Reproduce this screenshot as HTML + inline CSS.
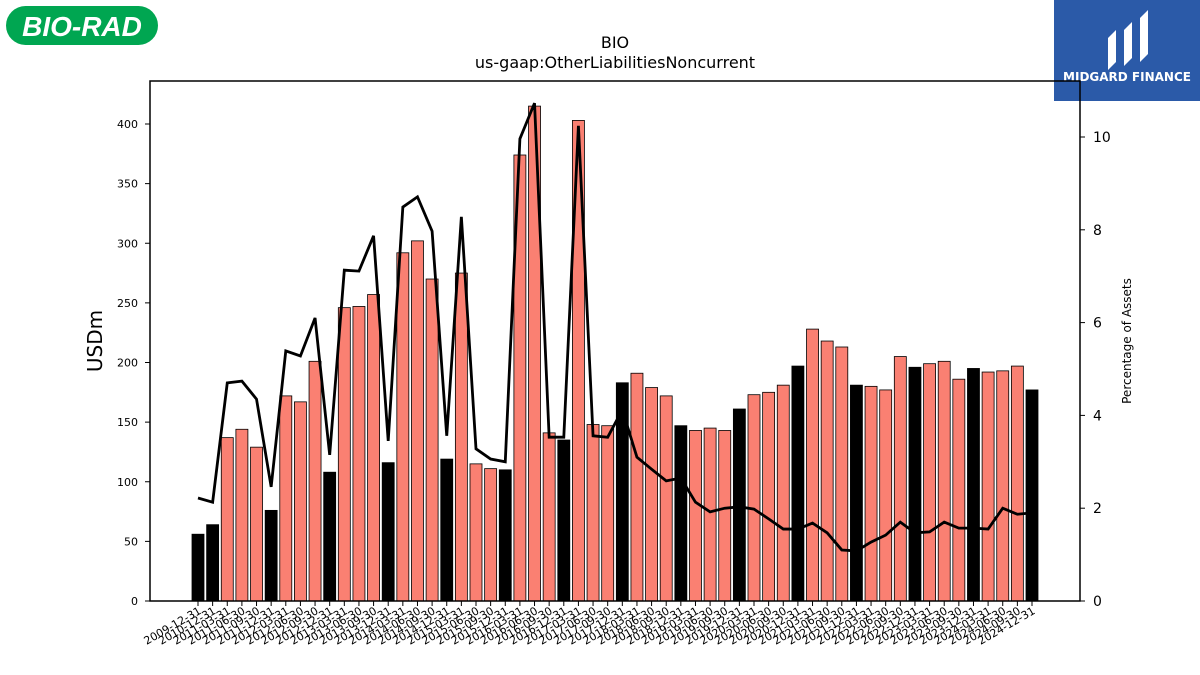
<!DOCTYPE html>
<html><head><meta charset="utf-8"><style>
body{margin:0;background:#fff;font-family:"Liberation Sans","DejaVu Sans",sans-serif}
svg{display:block}
</style></head><body>
<svg id="chart" width="1200" height="675" viewBox="0 0 1200 675" xmlns="http://www.w3.org/2000/svg" font-family="DejaVu Sans, Liberation Sans, sans-serif">
<g>
<rect x="6" y="6" width="152" height="39" rx="19.5" fill="#00a651"/>
<text x="82" y="36" text-anchor="middle" font-size="28" font-weight="bold" font-style="italic" fill="#fff" font-family="Liberation Sans, sans-serif">BIO-RAD</text>
</g>
<g>
<rect x="1054" y="0" width="146" height="101" fill="#2b5aa8"/>
<path d="M1108 70 L1108 38 L1116 30 L1116 62 Z M1124 66 L1124 30 L1132 22 L1132 58 Z M1140 62 L1140 18 L1148 10 L1148 54 Z" fill="#fff"/>
<text x="1127" y="81" text-anchor="middle" font-size="12" font-weight="bold" fill="#fff">MIDGARD FINANCE</text>
</g>
<text x="615" y="48" text-anchor="middle" font-size="16">BIO</text>
<text x="615" y="68" text-anchor="middle" font-size="16">us-gaap:OtherLiabilitiesNoncurrent</text>
<g id="bars"></g>
<g id="line"></g>
<rect x="150" y="81" width="930" height="520" fill="none" stroke="#000" stroke-width="1.5"/>
<g id="axes"></g>
<text transform="translate(102,341) rotate(-90)" text-anchor="middle" font-size="20">USDm</text>
<text transform="translate(1131,341) rotate(-90)" text-anchor="middle" font-size="12">Percentage of Assets</text>
</svg>
<script>
const categories=["2009-12-31","2010-12-31","2011-03-31","2011-06-30","2011-09-30","2011-12-31","2012-03-31","2012-06-30","2012-09-30","2012-12-31","2013-03-31","2013-06-30","2013-09-30","2013-12-31","2014-03-31","2014-06-30","2014-09-30","2014-12-31","2015-03-31","2015-06-30","2015-09-30","2015-12-31","2016-03-31","2016-06-30","2016-09-30","2016-12-31","2017-03-31","2017-06-30","2017-09-30","2017-12-31","2018-03-31","2018-06-30","2018-09-30","2018-12-31","2019-03-31","2019-06-30","2019-09-30","2019-12-31","2020-03-31","2020-06-30","2020-09-30","2020-12-31","2021-03-31","2021-06-30","2021-09-30","2021-12-31","2022-03-31","2022-06-30","2022-09-30","2022-12-31","2023-03-31","2023-06-30","2023-09-30","2023-12-31","2024-03-31","2024-06-30","2024-09-30","2024-12-31"];
const values=[56,64,137,144,129,76,172,167,201,108,246,247,257,116,292,302,270,119,275,115,111,110,374,415,141,135,403,148,147,183,191,179,172,147,143,145,143,161,173,175,181,197,228,218,213,181,180,177,205,196,199,201,186,195,192,193,197,177];
const pct=[2.22,2.13,4.70,4.74,4.35,2.46,5.39,5.28,6.10,3.15,7.13,7.11,7.87,3.45,8.49,8.71,7.97,3.56,8.28,3.28,3.06,3.00,9.96,10.73,3.53,3.53,10.24,3.56,3.53,4.12,3.10,2.84,2.59,2.65,2.13,1.92,2.00,2.03,1.98,1.77,1.55,1.55,1.68,1.47,1.10,1.08,1.27,1.42,1.70,1.47,1.49,1.70,1.57,1.57,1.55,2.00,1.87,1.90];
const leftTicks=[0,50,100,150,200,250,300,350,400];
const rightTicks=[0,2,4,6,8,10];
const NS="http://www.w3.org/2000/svg";
const x0=198,step=(1032-198)/57;
const xs=i=>x0+i*step;
const y=v=>601-v*477/400;
const y2=v=>601-v*46.4;
const bars=document.getElementById('bars'),line=document.getElementById('line'),axes=document.getElementById('axes');
function mk(t,a,p){const e=document.createElementNS(NS,t);for(const k in a)e.setAttribute(k,a[k]);p.appendChild(e);return e;}
categories.forEach((c,i)=>{
 const black=c.endsWith("12-31");
 const r=mk('rect',{x:xs(i)-6,y:y(values[i]),width:12,height:601-y(values[i]),fill:black?'#000':'#fa8072',stroke:'#000','stroke-width':0.8},bars);
 
 
 const t=mk('line',{x1:xs(i),x2:xs(i),y1:601,y2:606,stroke:'#000'},axes);
 
 
 const l=mk('text',{x:0,y:0,'font-size':11,'text-anchor':'end',transform:`translate(${xs(i)+4},${613}) rotate(-30)`},axes);
 l.textContent=c;
 
 
});
const pl=mk('polyline',{points:pct.map((v,i)=>xs(i)+','+y2(v)).join(' '),fill:'none',stroke:'#000','stroke-width':2.8},line);


leftTicks.forEach(v=>{
 const t=mk('line',{x1:145,x2:150,y1:y(v),y2:y(v),stroke:'#000'},axes);
 
 
 const l=mk('text',{x:138,y:y(v)+4,'font-size':11,'text-anchor':'end'},axes);
 l.textContent=v;
 
 
});
rightTicks.forEach(v=>{
 const t=mk('line',{x1:1080,x2:1085,y1:y2(v),y2:y2(v),stroke:'#000'},axes);
 
 
 const l=mk('text',{x:1093,y:y2(v)+5,'font-size':14},axes);
 l.textContent=v;
 
 
});
</script>
</body></html>
